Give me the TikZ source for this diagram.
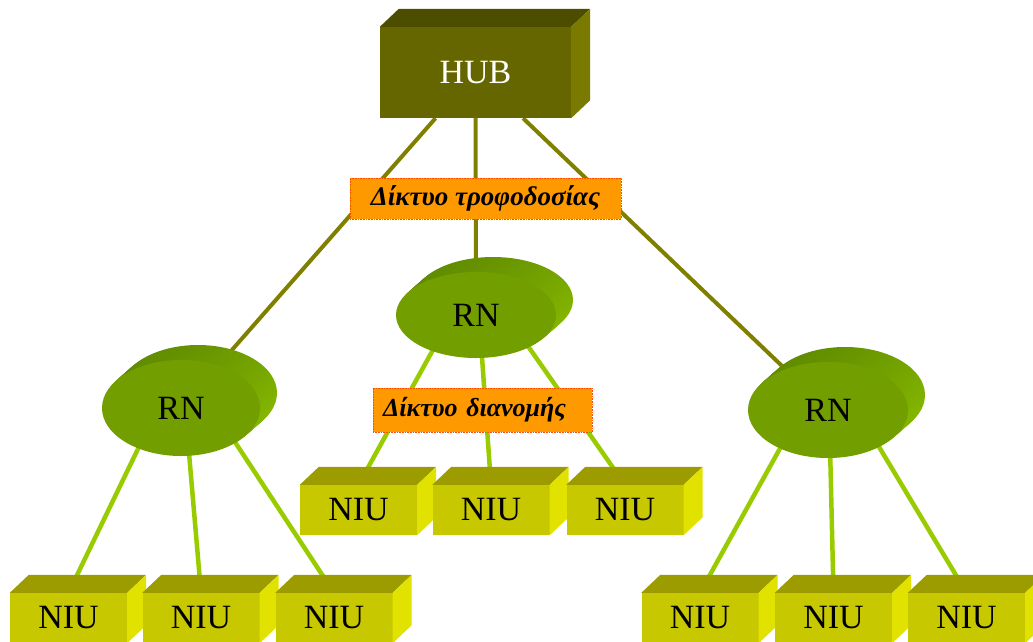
\documentclass[tikz,border=0pt]{standalone}
\usepackage{fontspec}
\setmainfont{Liberation Serif}
\usetikzlibrary{shapes.geometric,backgrounds,shadings}

\definecolor{hubfront}{HTML}{666600}
\definecolor{hubtop}{HTML}{4D4D00}
\definecolor{hubside}{HTML}{7A7A00}
\definecolor{niufront}{HTML}{C8C800}
\definecolor{niutop}{HTML}{9C9C00}
\definecolor{niuside}{HTML}{E2E200}
\definecolor{rnfront}{HTML}{739E00}
\definecolor{rndark}{HTML}{5A8400}
\definecolor{rnlight}{HTML}{8CC000}
\definecolor{feedline}{HTML}{808000}
\definecolor{dropline}{HTML}{99CC00}
\definecolor{labelfill}{HTML}{FF9900}

\tikzset{
  hub/.style={fill=hubfront,text=white,minimum width=191pt,minimum height=91pt,inner sep=0pt,font=\fontsize{34}{34}\selectfont},
  niu/.style={fill=niufront,minimum width=117pt,minimum height=50pt,inner sep=0pt,font=\fontsize{34}{34}\selectfont},
  rn/.style={ellipse,fill=rnfront,inner sep=0pt,font=\fontsize{34}{34}\selectfont},
  netlabel/.style={fill=labelfill,draw=orange!60!red,densely dotted,line width=0.6pt,inner sep=0pt,font=\fontsize{27}{27}\selectfont\bfseries\itshape},
  feeder/.style={feedline,line width=4pt},
  drop/.style={dropline,line width=4.5pt}
}

% box with a top and a right face: style, name, centre, text
\newcommand{\solidbox}[4]{
  \node[#1] (#2) at (#3) {#4};
  \fill[#1top] (#2.north west) -- ++(19pt,18pt) -- ([shift={(19pt,18pt)}]#2.north east) -- (#2.north east) -- cycle;
  \fill[#1side] (#2.north east) -- ++(19pt,18pt) -- ([shift={(19pt,18pt)}]#2.south east) -- (#2.south east) -- cycle;
}

% thick disc: name, centre, x radius, y radius
\newcommand{\rnunit}[4]{
  \coordinate (#1c) at (#2);
  \foreach \t in {10,9,...,1}
    \shade[upper left=rndark,upper right=rndark!50!rnlight,lower left=rndark!50!rnlight,lower right=rnlight]
      ([shift={({1.7pt*\t},{1.5pt*\t})}]#1c) ellipse [x radius=#3pt,y radius=#4pt];
  \node[rn,minimum width=2*#3pt,minimum height=2*#4pt] (#1) at (#2) {RN};
}

\begin{document}
\begin{tikzpicture}[x=1pt,y=-1pt]
\useasboundingbox (0,0) rectangle (1033,641);
\clip (0,0) rectangle (1033,641);

\solidbox{hub}{hub}{475.5,72.5}{HUB}

\rnunit{rnL}{181,408}{79}{48}
\rnunit{rnM}{476,315}{80}{43}
\rnunit{rnR}{828,410}{80}{48}

\node[netlabel,minimum width=271pt,minimum height=41pt] (feed) at (485.5,198.5) {Δίκτυο τροφοδοσίας};
\node[netlabel,font=\fontsize{26}{26}\selectfont\bfseries\itshape,inner xsep=10pt,text width=199pt,align=left,minimum height=44pt] (dist) at (482.5,410) {Δίκτυο διανομής};

\foreach \i/\x in {1/358.5,2/491,3/625}
  {\solidbox{niu}{niuM\i}{\x,510}{NIU}}
\foreach \i/\x in {1/68.5,2/201,3/334}
  {\solidbox{niu}{niuL\i}{\x,618}{NIU}}
\foreach \i/\x in {1/700,2/833.5,3/966.5}
  {\solidbox{niu}{niuR\i}{\x,618}{NIU}}

\begin{scope}[on background layer]
\foreach \r in {rnL,rnM,rnR}
  \draw[feeder] (hub) -- (\r);
\foreach \i in {1,2,3} {
  \draw[drop] (rnL.north) -- (niuL\i.north);
  \draw[drop] (rnM.north) -- (niuM\i.north);
  \draw[drop] (rnR.north) -- (niuR\i.north);
}
\end{scope}
\end{tikzpicture}
\end{document}
